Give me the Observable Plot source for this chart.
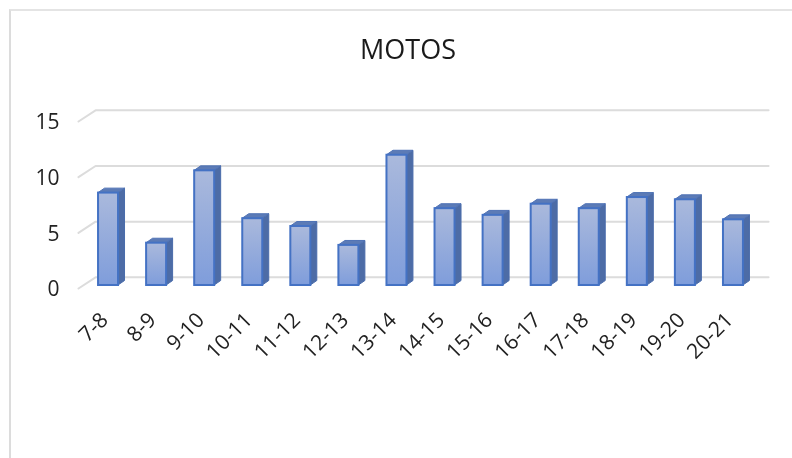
<!DOCTYPE html>
<html>
<head>
<meta charset="utf-8">
<script src="https://cdn.jsdelivr.net/npm/d3@7"></script>
<script src="https://cdn.jsdelivr.net/npm/@observablehq/plot@0.6"></script>
<style>
  html, body { margin: 0; padding: 0; background: #fff; }
  #frame { position: absolute; left: 9px; top: 9px; width: 783px; height: 449px;
           border-top: 2px solid #e4e4e4; border-left: 2px solid #dcdcdc; box-sizing: border-box; }
  #title { position: absolute; left: 0; width: 816px; top: 30px; text-align: center;
           font: 27px "Open Sans", sans-serif; color: #1a1a1a; filter: blur(0.4px); }
  #chart { position: absolute; left: 0; top: 0; filter: blur(0.5px); }
</style>
</head>
<body>
<div id="frame"></div>
<div id="title">MOTOS</div>
<div id="chart"></div>
<script>
const categories = ["7-8","8-9","9-10","10-11","11-12","12-13","13-14","14-15","15-16","16-17","17-18","18-19","19-20","20-21"];
const values = [8.3, 3.8, 10.3, 6.0, 5.3, 3.6, 11.7, 6.9, 6.3, 7.3, 6.9, 7.9, 7.7, 5.9];
const gridValues = [0, 5, 10, 15];

const halfW = 0.208, depthX = 0.135, depthY = 0.4, base = 0.27, backY = 1;
const bars = values.map((v, i) => ({i, v}));

const side = bars.flatMap(d => [
  {k: d.i, x: d.i + halfW,          y1: base,          y2: base + d.v},
  {k: d.i, x: d.i + halfW + depthX, y1: base + depthY, y2: base + d.v + depthY}
]);
const top_ = bars.flatMap(d => [
  {k: d.i, y: base + d.v,          x1: d.i - halfW,          x2: d.i + halfW},
  {k: d.i, y: base + d.v + depthY, x1: d.i - halfW + depthX, x2: d.i + halfW + depthX}
]);
const grid = gridValues.flatMap(v => [
  {k: v, x: -0.625, y: v},
  {k: v, x: -0.27,  y: v + backY},
  {k: v, x: 13.73,  y: v + backY}
]);

const defs = () => {
  const s = d3.create("svg:defs");
  const g = s.append("linearGradient").attr("id", "barFill").attr("x1", 0).attr("x2", 0).attr("y1", 0).attr("y2", 1);
  g.append("stop").attr("offset", "0%").attr("stop-color", "#aab9dc");
  g.append("stop").attr("offset", "100%").attr("stop-color", "#7f9ddb");
  return s.node();
};

const chart = Plot.plot({
  width: 792, height: 458,
  marginLeft: 84, marginRight: 35, marginTop: 121, marginBottom: 170,
  style: {background: "transparent", overflow: "visible"},
  x: {domain: [-0.5, 13.5]},
  y: {domain: [0, 15]},
  marks: [
    defs,
    Plot.line(grid, {x: "x", y: "y", z: "k", stroke: "#dcdcdc", strokeWidth: 2}),
    Plot.axisY({ticks: gridValues, tickSize: 0, tickPadding: 25, fontSize: 21, label: null,
                fontFamily: "'Open Sans', sans-serif", color: "#222", dy: 1}),
    Plot.axisX({ticks: d3.range(categories.length), tickFormat: i => categories[i], tickSize: 0,
                tickRotate: -45, tickPadding: 28, fontSize: 21, label: null,
                fontFamily: "'Open Sans', sans-serif", color: "#222", dx: -4}),
    Plot.area(side, {x1: "x", x2: "x", y1: "y1", y2: "y2", z: "k", fill: "#4d6ca6", stroke: "#4a6cab", strokeWidth: 1}),
    Plot.area(top_, {x1: "x1", x2: "x2", y1: "y", y2: "y", z: "k", fill: "#5c7bb6", stroke: "#4f72b5", strokeWidth: 1}),
    Plot.rect(bars, {x1: d => d.i - halfW, x2: d => d.i + halfW, y1: base, y2: d => base + d.v,
                     fill: "url(#barFill)", stroke: "#4472c4", strokeWidth: 2})
  ]
});
document.getElementById("chart").appendChild(chart);
</script>
</body>
</html>
